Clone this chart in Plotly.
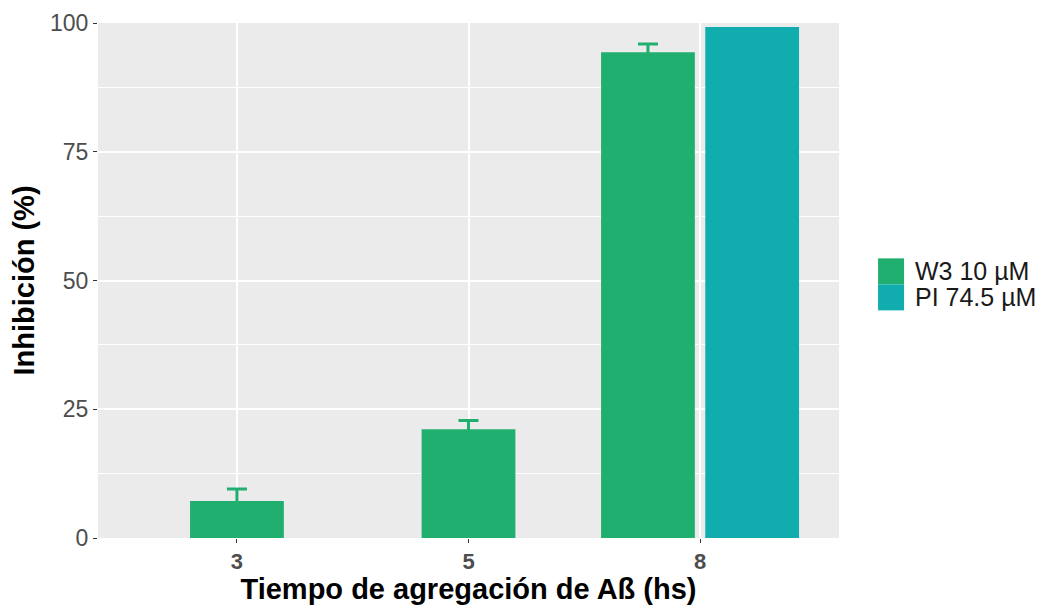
import plotly.graph_objects as go

# datos
tiempos = ["3", "5", "8"]
w3_inhib = [7.2, 21.1, 94.3]
w3_err = [2.3, 1.7, 1.6]
pi_inhib = [None, None, 99.2]

series = [
    ("W3 10 µM", w3_inhib, w3_err, "#21AF6F"),
    ("PI 74.5 µM", pi_inhib, None, "#11ACAD"),
]

# posicion tipo dodge2 (ancho 0.9, padding 0.1, preserve single)
ancho_grupo = 0.9
ancho_barra = ancho_grupo / 2 * 0.9


def offsets(idx_serie):
    res = []
    for j in range(len(tiempos)):
        presentes = [k for k, s in enumerate(series) if s[1][j] is not None]
        if idx_serie not in presentes:
            res.append(0)
            continue
        n = len(presentes)
        slot = ancho_grupo / n
        centro = -ancho_grupo / 2 + slot * (presentes.index(idx_serie) + 0.5)
        res.append(centro - ancho_barra / 2)
    return res


fig = go.Figure()

for k, (nombre, vals, err, color) in enumerate(series):
    error = None
    if err is not None:
        # simetrico: la parte de abajo queda tapada (mismo color que la barra)
        error = dict(type="data", array=err, symmetric=True,
                     color=color, thickness=3, width=10)
    fig.add_trace(go.Bar(
        x=tiempos, y=vals, name=nombre,
        marker=dict(color=color, line=dict(width=0)),
        width=[ancho_barra] * len(tiempos),
        offset=offsets(k),
        error_y=error,
        showlegend=False,
    ))

# leyenda estilo ggplot (cuadros grandes)
for k, (nombre, vals, err, color) in enumerate(series):
    y0 = 0.543 - k * 0.0505
    fig.add_shape(type="rect", xref="paper", yref="paper",
                  x0=1.0527, x1=1.0878, y0=y0 - 0.0505, y1=y0,
                  fillcolor=color, line=dict(width=0))
    fig.add_annotation(xref="paper", yref="paper", x=1.1, y=y0 - 0.025,
                       text=nombre, showarrow=False, xanchor="left", yanchor="middle",
                       font=dict(size=25, color="#1A1A1A"))

fig.update_layout(
    width=1042, height=605,
    margin=dict(l=98, r=203, t=23, b=67, autoexpand=False),
    paper_bgcolor="white",
    plot_bgcolor="#EBEBEB",
    barmode="overlay",
    font=dict(family="Liberation Sans, Arial, sans-serif"),
)

fig.update_xaxes(
    type="category", range=[-0.6, 2.6], automargin=False,
    showgrid=True, gridcolor="white", gridwidth=2,
    ticks="outside", ticklen=4, tickcolor="#333333",
    tickfont=dict(size=22, color="#4D4D4D"),
    tickprefix="<b>", ticksuffix="</b>",
    title=dict(text="<b>Tiempo de agregación de Aß (hs)</b>", standoff=2,
               font=dict(size=29, color="black")),
    zeroline=False,
)

fig.update_yaxes(
    range=[0, 100], tickvals=[0, 25, 50, 75, 100], automargin=False,
    showgrid=True, gridcolor="white", gridwidth=2,
    minor=dict(tickvals=[12.5, 37.5, 62.5, 87.5], showgrid=True,
               gridcolor="white", gridwidth=1, ticks=""),
    ticks="outside", ticklen=4, tickcolor="#333333",
    tickfont=dict(size=23, color="#4D4D4D"),
    title=dict(text="<b>Inhibición (%)</b>", standoff=6,
               font=dict(size=29, color="black")),
    zeroline=False,
)

fig.write_html("out.html", config={"displayModeBar": False},
               post_script="document.body.style.margin='0';")
